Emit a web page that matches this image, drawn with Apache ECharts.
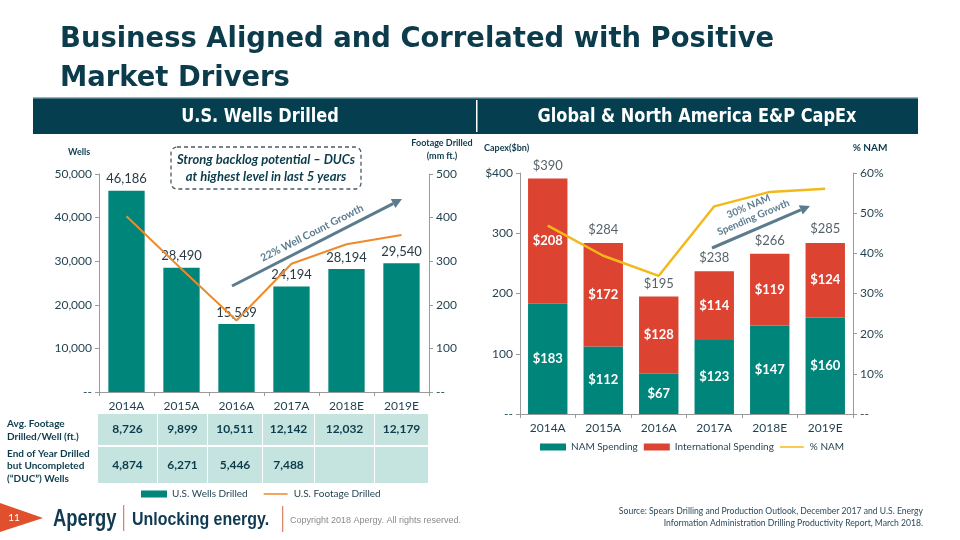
<!DOCTYPE html>
<html><head><meta charset="utf-8">
<script src="https://cdn.jsdelivr.net/npm/echarts@6/dist/echarts.min.js"></script>
<style>html,body{margin:0;padding:0;background:#fff}#c{width:960px;height:540px}</style>
</head><body><div id="c"></div>
<script>
// ---------- data ----------
const years = ['2014A','2015A','2016A','2017A','2018E','2019E'];
const wellsDrilled = [46186, 28490, 15569, 24194, 28194, 29540];
const footageDrilled = [403, 282, 164, 294, 339, 360];
const avgFootage = ['8,726','9,899','10,511','12,142','12,032','12,179'];
const ducWells = ['4,874','6,271','5,446','7,488','',''];
const namSpending = [183, 112, 67, 123, 147, 160];
const intlSpending = [208, 172, 128, 114, 119, 124];
const capexTotals = [390, 284, 195, 238, 266, 285];
const pctNAM = [46.9, 39.4, 34.4, 51.7, 55.3, 56.1];

const DARK = '#0c3c4c';
const TEAL = '#00857a';
const RED = '#dc4330';
const ORANGE = '#ee8a2c';
const YELLOW = '#f3b91b';
const AX = '#9a9a9a';
const FONT = "Lato, 'Noto Sans', sans-serif";
const BOLDF = "'DejaVu Sans', sans-serif";
const LINE_ICON = 'path://M0,0L0.01,0L0.01,0.01Z M0,3L26,3L26,4.6L0,4.6Z M0,7.6L0.01,7.6L0.01,7.61Z';

const chart = echarts.init(document.getElementById('c'));

function arrow(x1, y1, x2, y2, color) {
  const ang = Math.atan2(y2 - y1, x2 - x1);
  const L = 10, W = 5;
  const bx = x2 - L * Math.cos(ang), by = y2 - L * Math.sin(ang);
  const px = -Math.sin(ang) * W, py = Math.cos(ang) * W;
  return [
    {type:'line', shape:{x1:x1, y1:y1, x2:bx, y2:by}, style:{stroke:color, lineWidth:3}, silent:true},
    {type:'polygon', shape:{points:[[x2,y2],[bx+px,by+py],[bx-px,by-py]]}, style:{fill:color}, silent:true}
  ];
}

// table graphics
const colEdges = [[98,157],[158,207],[208,262],[263,314],[315,374],[375,428]];
const tableG = [];
[[414,445, avgFootage],[447,483, ducWells]].forEach(function(r){
  colEdges.forEach(function(c, i){
    tableG.push({type:'rect', shape:{x:c[0], y:r[0], width:c[1]-c[0], height:r[1]-r[0]}, style:{fill:'#c6e4df'}, silent:true});
    tableG.push({type:'text', x:(c[0]+c[1])/2, y:(r[0]+r[1])/2, style:{text:r[2][i], fill:DARK, font:'bold 12px '+FONT, align:'center', verticalAlign:'middle'}, silent:true});
  });
});

const graphics = [
  {type:'text', x:60, y:39, scaleX:0.945, style:{text:'Business Aligned and Correlated with Positive', fill:DARK, font:'bold 29px '+BOLDF, align:'left', verticalAlign:'middle'}},
  {type:'text', x:60, y:78, scaleX:0.945, style:{text:'Market Drivers', fill:DARK, font:'bold 29px '+BOLDF, align:'left', verticalAlign:'middle'}},
  {type:'rect', shape:{x:33, y:98, width:885, height:36}, style:{fill:'#053f4f'}},
  {type:'rect', shape:{x:33, y:97, width:885, height:1.5}, style:{fill:'#8fb5bf'}},
  {type:'rect', shape:{x:476, y:100, width:1.5, height:32}, style:{fill:'#ffffff'}},
  {type:'text', x:260, y:117, scaleX:0.85, style:{text:'U.S. Wells Drilled', fill:'#fff', font:'bold 19px '+BOLDF, align:'center', verticalAlign:'middle'}},
  {type:'text', x:697, y:117, scaleX:0.85, style:{text:'Global & North America E&P CapEx', fill:'#fff', font:'bold 19px '+BOLDF, align:'center', verticalAlign:'middle'}},
  // axis titles
  {type:'text', x:68, y:152, style:{text:'Wells', fill:DARK, font:'bold 9px '+FONT, align:'left', verticalAlign:'middle'}},
  {type:'text', x:442, y:150, style:{text:'Footage Drilled\n(mm ft.)', fill:DARK, font:'bold 9px '+FONT, align:'center', verticalAlign:'middle', lineHeight:13}},
  {type:'text', x:484, y:148, style:{text:'Capex($bn)', fill:DARK, font:'bold 9px '+FONT, align:'left', verticalAlign:'middle'}},
  {type:'text', x:870, y:148, style:{text:'% NAM', fill:DARK, font:'bold 10px '+FONT, align:'center', verticalAlign:'middle'}},
  // DUC callout
  {type:'rect', shape:{x:171, y:147, width:190, height:42, r:6}, style:{fill:'none', stroke:'#4b5a63', lineWidth:1.3, lineDash:[4,3]}},
  {type:'text', x:266, y:168, style:{text:'Strong backlog potential – DUCs\nat highest level in last 5 years', fill:DARK, font:'italic bold 13px '+FONT, align:'center', verticalAlign:'middle', lineHeight:17}},
  // growth annotations
  {type:'text', x:312, y:233, rotation:0.47, style:{text:'22% Well Count Growth', fill:'#5b7c8e', font:'bold 10.5px '+FONT, align:'center', verticalAlign:'middle'}},
  {type:'text', x:751, y:212, rotation:0.40, style:{text:'30% NAM\nSpending Growth', fill:'#5b7c8e', font:'bold 10px '+FONT, align:'center', verticalAlign:'middle', lineHeight:12}},
  // table row labels
  {type:'text', x:7, y:430, style:{text:'Avg. Footage\nDrilled/Well (ft.)', fill:DARK, font:'bold 10px '+FONT, align:'left', verticalAlign:'middle', lineHeight:13}},
  {type:'text', x:7, y:466, style:{text:'End of Year Drilled\nbut Uncompleted\n(“DUC”) Wells', fill:DARK, font:'bold 10px '+FONT, align:'left', verticalAlign:'middle', lineHeight:12.5}},
  // footer
  {type:'polygon', shape:{points:[[0,503],[43,518],[0,532]]}, style:{fill:'#e0502d'}},
  {type:'text', x:14, y:518, style:{text:'11', fill:'#fff', font:'10px '+FONT, align:'center', verticalAlign:'middle'}},
  {type:'text', x:53, y:520, scaleX:0.8, style:{text:'Apergy', fill:'#0f3a52', font:'bold 23px "Liberation Sans", sans-serif', align:'left', verticalAlign:'middle'}},
  {type:'rect', shape:{x:123, y:505, width:1.3, height:26}, style:{fill:'#d9876e'}},
  {type:'text', x:132, y:520, scaleX:0.84, style:{text:'Unlocking energy.', fill:'#0f3a52', font:'bold 19px "Liberation Sans", sans-serif', align:'left', verticalAlign:'middle'}},
  {type:'rect', shape:{x:282, y:506, width:1.3, height:26}, style:{fill:'#d9876e'}},
  {type:'text', x:290, y:521, style:{text:'Copyright 2018 Apergy. All rights reserved.', fill:'#8a8a8a', font:'9px "Liberation Sans", sans-serif', align:'left', verticalAlign:'middle'}},
  {type:'text', x:923, y:511, style:{text:'Source: Spears Drilling and Production Outlook, December 2017 and U.S. Energy', fill:'#2c4a5a', font:'8.6px '+FONT, align:'right', verticalAlign:'middle'}},
  {type:'text', x:923, y:523, style:{text:'Information Administration Drilling Productivity Report, March 2018.', fill:'#2c4a5a', font:'8.6px '+FONT, align:'right', verticalAlign:'middle'}}
].concat(arrow(232,286,402,199,'#5b7c8e'), arrow(712,248,810,206,'#5b7c8e'), tableG);

const axisLabelStyle = {color:'#1f3f4e', fontFamily:FONT, fontSize:12};

chart.setOption({
  animation:false,
  textStyle:{fontFamily:FONT},
  grid:[
    {left:99, right:531, top:174, bottom:148, containLabel:false},
    {left:520, right:107, top:173, bottom:126, containLabel:false}
  ],
  legend:[
    {data:[{name:'U.S. Wells Drilled', icon:'rect'},{name:'U.S. Footage Drilled', icon:LINE_ICON}], left:136, top:484, itemWidth:26, itemHeight:7, itemGap:16,
     textStyle:{color:'#1f3f4e', fontSize:10, fontFamily:FONT}},
    {data:[{name:'NAM Spending', icon:'rect'},{name:'International Spending', icon:'rect'},{name:'% NAM', icon:LINE_ICON}], left:535, top:437, itemWidth:26, itemHeight:7, itemGap:6,
     textStyle:{color:'#1f3f4e', fontSize:10, fontFamily:FONT}}
  ],
  xAxis:[
    {type:'category', gridIndex:0, data:years, axisLine:{lineStyle:{color:AX}}, axisTick:{show:true, length:4, lineStyle:{color:AX}},
     axisLabel:Object.assign({margin:8}, axisLabelStyle)},
    {type:'category', gridIndex:1, data:years, axisLine:{lineStyle:{color:AX}}, axisTick:{show:true, length:4, lineStyle:{color:AX}},
     axisLabel:Object.assign({margin:8}, axisLabelStyle)}
  ],
  yAxis:[
    {type:'value', gridIndex:0, min:0, max:50000, interval:10000, splitLine:{show:false},
     axisLine:{show:true, lineStyle:{color:AX}}, axisTick:{show:true, length:4, lineStyle:{color:AX}},
     axisLabel:Object.assign({formatter:function(v){return v===0?'--':v.toLocaleString('en-US');}, margin:7}, axisLabelStyle)},
    {type:'value', gridIndex:0, position:'right', min:0, max:500, interval:100, splitLine:{show:false},
     axisLine:{show:true, lineStyle:{color:AX}}, axisTick:{show:true, length:4, lineStyle:{color:AX}},
     axisLabel:Object.assign({formatter:function(v){return v===0?'--':String(v);}, margin:7}, axisLabelStyle)},
    {type:'value', gridIndex:1, min:0, max:400, interval:100, splitLine:{show:false},
     axisLine:{show:true, lineStyle:{color:AX}}, axisTick:{show:true, length:4, lineStyle:{color:AX}},
     axisLabel:Object.assign({formatter:function(v){return v===0?'--':(v===400?'$400':String(v));}, margin:7}, axisLabelStyle)},
    {type:'value', gridIndex:1, position:'right', min:0, max:60, interval:10, splitLine:{show:false},
     axisLine:{show:true, lineStyle:{color:AX}}, axisTick:{show:true, length:4, lineStyle:{color:AX}},
     axisLabel:Object.assign({formatter:function(v){return v===0?'--':v+'%';}, margin:7}, axisLabelStyle)}
  ],
  series:[
    {name:'U.S. Wells Drilled', type:'bar', xAxisIndex:0, yAxisIndex:0, data:wellsDrilled, barCategoryGap:'34%',
     itemStyle:{color:TEAL},
     label:{show:true, position:'top', distance:5, color:'#2a3a44', fontSize:13, fontFamily:FONT,
       formatter:function(p){return p.value.toLocaleString('en-US');}}},
    {name:'U.S. Footage Drilled', type:'line', xAxisIndex:0, yAxisIndex:1, data:footageDrilled, symbol:'none',
     lineStyle:{color:ORANGE, width:2}, itemStyle:{color:ORANGE}, z:5},
    {name:'NAM Spending', type:'bar', xAxisIndex:1, yAxisIndex:2, stack:'capex', data:namSpending, barCategoryGap:'29%',
     itemStyle:{color:TEAL},
     label:{show:true, position:'inside', color:'#fff', fontWeight:'bold', fontSize:13, fontFamily:FONT, formatter:'${c}'}},
    {name:'International Spending', type:'bar', xAxisIndex:1, yAxisIndex:2, stack:'capex', data:intlSpending,
     itemStyle:{color:RED},
     label:{show:true, position:'inside', color:'#fff', fontWeight:'bold', fontSize:13, fontFamily:FONT, formatter:'${c}'}},
    {name:'Totals', type:'scatter', xAxisIndex:1, yAxisIndex:2, data:capexTotals, symbolSize:1, itemStyle:{color:'rgba(0,0,0,0)'},
     silent:true, z:6,
     label:{show:true, position:'top', distance:6, color:'#2a3a44', fontSize:13, fontFamily:FONT, formatter:'${c}'}},
    {name:'% NAM', type:'line', xAxisIndex:1, yAxisIndex:3, data:pctNAM, symbol:'none',
     lineStyle:{color:YELLOW, width:2.5}, itemStyle:{color:YELLOW}, z:5}
  ],
  graphic:graphics
});
</script></body></html>
